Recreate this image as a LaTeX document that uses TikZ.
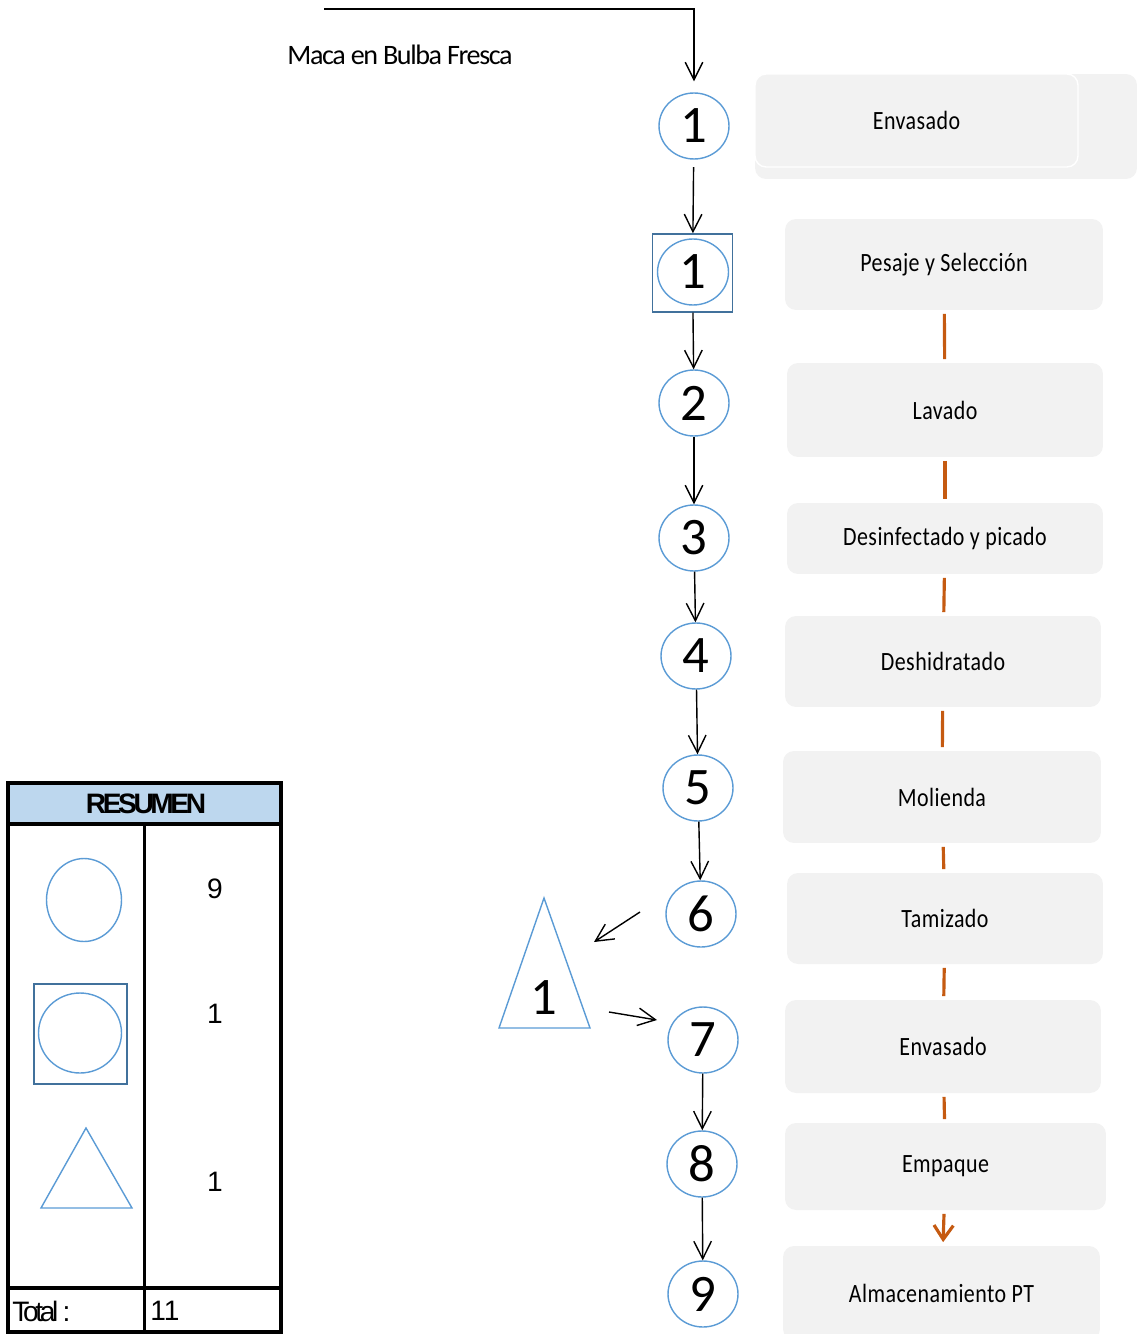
\documentclass[tikz,border=0pt]{standalone}
\usepackage{fontspec}
\setmainfont{Carlito}
\newfontfamily\stepfont[LetterSpace=2]{Carlito}
\newfontfamily\inputfont[LetterSpace=-5]{Carlito}
\newfontfamily\tablefont{Liberation Sans}
\newfontfamily\tighttable[LetterSpace=-12]{Liberation Sans}
\usetikzlibrary{arrows.meta,shapes.geometric}

\definecolor{opblue}{HTML}{5B9BD5}
\definecolor{sqblue}{HTML}{41719C}
\definecolor{stepgray}{HTML}{F2F2F2}
\definecolor{linkorange}{HTML}{C55A11}
\definecolor{headblue}{HTML}{BDD7EE}

% taller step labels
\newcommand{\stxt}[1]{\scalebox{1}[1.2]{#1}}

\begin{document}
\begin{tikzpicture}[x=0.02cm,y=-0.02cm]
\tikzstyle{op} = [ellipse, draw=opblue, line width=0.8pt, inner sep=0pt,
minimum width=1.4cm, minimum height=1.32cm, font=\fontsize{30}{30}\selectfont]
\tikzstyle{insp} = [rectangle, draw=sqblue, line width=0.8pt, minimum width=1.6cm, minimum height=1.56cm]
\tikzstyle{stepbox} = [rectangle, fill=stepgray, rounded corners=0.22cm,
font=\stepfont\fontsize{12.5}{12.5}\selectfont]
\tikzstyle{flow} = [draw, line width=0.8pt, -{Straight Barb[length=10pt,width=10pt]}]
\tikzstyle{link} = [draw=linkorange, line width=1.8pt, shorten <=2pt, shorten >=2pt]
\tikzstyle{grid} = [draw, line width=2.2pt]

\clip (0,0) rectangle (1137,1334);

% operations column
\node [op] (c1) at (694,126) {1};
\node [insp] (sq1) at (692.5,273) {};
\node [op, minimum width=1.42cm] (c1b) at (693,272) {1};
\node [op] (c2) at (694,403) {2};
\node [op] (c3) at (694,538) {3};
\node [op] (c4) at (696,656) {4};
\node [op] (c5) at (698,788) {5};
\node [op] (c6) at (701,914) {6};
\node [op] (c7) at (703,1040) {7};
\node [op] (c8) at (702,1164) {8};
\node [op] (c9) at (703,1294) {9};

% storage triangle
\draw [opblue, line width=0.8pt] (544,898) -- (590,1028) -- (499,1028) -- cycle;
\node [font=\fontsize{30}{30}\selectfont] (t1) at (544,998) {1};

% process steps
\node [stepbox, minimum width=7.64cm, minimum height=2.1cm] (back) at (946,126.5) {};
\node [stepbox, draw=white, thick, minimum width=6.46cm, minimum height=1.86cm] (s0) at (916.5,120.5) {\stxt{Envasado}};
\node [stepbox, minimum width=6.36cm, minimum height=1.82cm] (s1) at (944,264.5) {\stxt{Pesaje y Selección}};
\node [stepbox, minimum width=6.32cm, minimum height=1.88cm] (s2) at (945,410) {\stxt{Lavado}};
\node [stepbox, minimum width=6.32cm, minimum height=1.42cm] (s3) at (945,538.5) {\stxt{Desinfectado y picado}};
\node [stepbox, minimum width=6.32cm, minimum height=1.82cm] (s4) at (943,661.5) {\stxt{Deshidratado}};
\node [stepbox, minimum width=6.36cm, minimum height=1.84cm] (s5) at (942,797) {\stxt{Molienda}};
\node [stepbox, minimum width=6.32cm, minimum height=1.82cm] (s6) at (945,918.5) {\stxt{Tamizado}};
\node [stepbox, minimum width=6.32cm, minimum height=1.86cm] (s7) at (943,1046.5) {\stxt{Envasado}};
\node [stepbox, minimum width=6.42cm, minimum height=1.74cm] (s8) at (945.5,1166.5) {\stxt{Empaque}};
\node [stepbox, minimum width=6.34cm, minimum height=1.88cm] (s9) at (941.5,1293) {\stxt{Almacenamiento PT}};

% raw material input
\coordinate (feed) at (324,9);
\node [font=\inputfont\fontsize{16}{16}\selectfont] (maca) at (400,55) {Maca en Bulba Fresca};

% resumen table
\fill [headblue] (8,783) rectangle (281,824);
\node [font=\tighttable\bfseries\fontsize{16}{16}\selectfont] (head) at (146,804) {RESUMEN};
\node [op, minimum width=1.5cm, minimum height=1.66cm] (k1) at (84,900) {};
\node [insp, minimum width=1.86cm, minimum height=2cm] (k2) at (80.5,1034) {};
\node [op, minimum width=1.66cm, minimum height=1.6cm] (k2c) at (80,1033) {};
\draw [opblue, line width=0.8pt] (86,1128) -- (132,1208) -- (41,1208) -- cycle;
\node [font=\tablefont\fontsize{16}{16}\selectfont] (n1) at (215,889) {9};
\node [font=\tablefont\fontsize{16}{16}\selectfont] (n2) at (215,1014) {1};
\node [font=\tablefont\fontsize{16}{16}\selectfont] (n3) at (215,1182) {1};
\node [font=\tighttable\fontsize{16}{16}\selectfont, anchor=west, inner sep=0pt] (tot) at (12,1311) {Total :};
\node [font=\tablefont\fontsize{16}{16}\selectfont, anchor=west, inner sep=0pt] (totn) at (150,1311) {11};

% arrows between operations
\coordinate (a6) at (640,912);
\coordinate (at) at (594,942);
\coordinate (ta) at (609,1012);
\coordinate (a7) at (657,1020);
\path [flow, shorten >=0.22cm] (feed) -| (c1);
\path [flow, shorten <=0.15cm] (c1) -- (sq1);
\path [flow] (sq1) -- (c2);
\path [flow] (c2) -- (c3);
\path [flow] (c3) -- (c4);
\path [flow] (c4) -- (c5);
\path [flow] (c5) -- (c6);
\path [flow] (a6) -- (at);
\path [flow] (ta) -- (a7);
\path [flow] (c7) -- (c8);
\path [flow] (c8) -- (c9);

% links between steps
\path [link] (s1) -- (s2);
\path [link] (s2) -- (s3);
\path [link] (s3) -- (s4);
\path [link] (s4) -- (s5);
\path [link] (s5) -- (s6);
\path [link] (s6) -- (s7);
\path [link] (s7) -- (s8);
\path [link, -{Straight Barb[length=8pt,width=11pt]}] (s8) -- (s9);

% table frame
\draw [grid] (8,783) rectangle (281,1332);
\draw [grid] (8,824) -- (281,824);
\draw [grid] (8,1288) -- (281,1288);
\draw [grid] (144.5,824) -- (144.5,1332);
\end{tikzpicture}
\end{document}
